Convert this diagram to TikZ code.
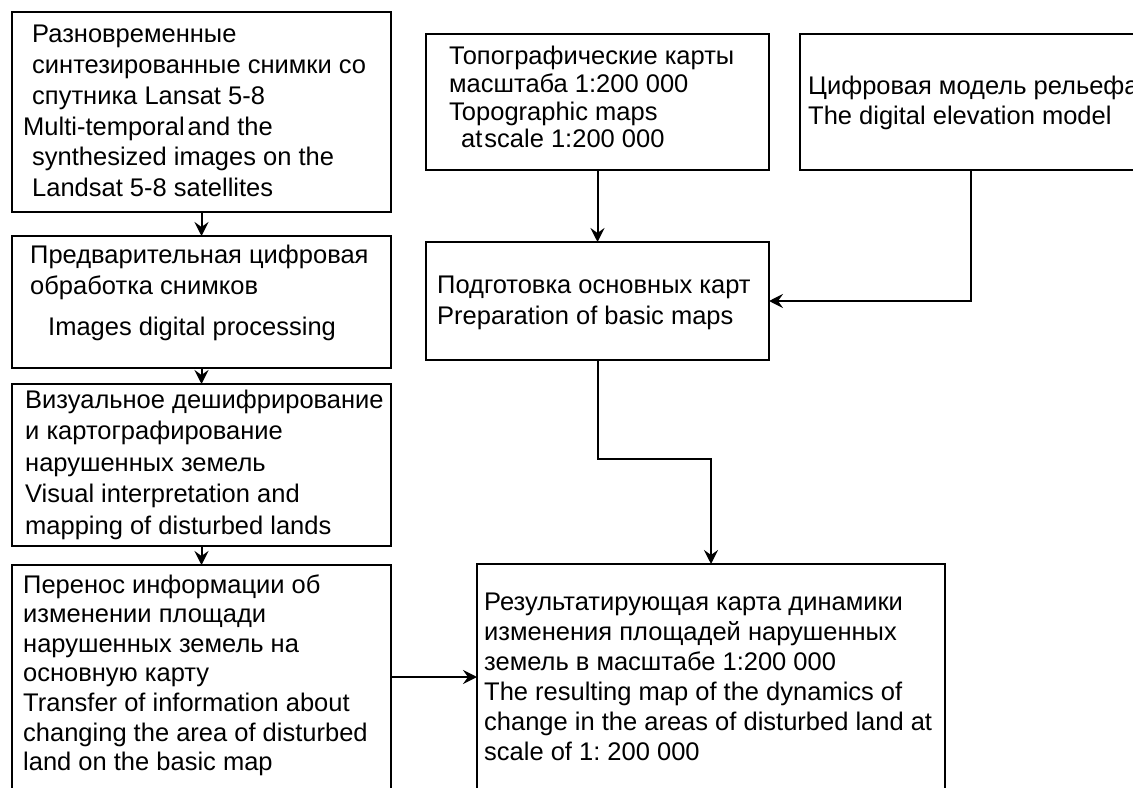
\documentclass[tikz,border=0pt]{standalone}
\usepackage{fontspec}
\setmainfont{Liberation Sans}
\usetikzlibrary{arrows.meta}
\frenchspacing

\tikzset{
  box/.style={draw, line width=2.8pt, outer sep=0pt, inner sep=0pt, anchor=north west},
  txt/.style={inner sep=0pt, anchor=base west, align=left, font=\fontsize{25.5}{#1}\selectfont},
  arr/.style={line width=2pt, -{Stealth[length=14pt, width=14pt, inset=5pt]}}
}

\begin{document}
\begin{tikzpicture}[x=1pt, y=-1pt]
\useasboundingbox (0,0) rectangle (1133,789);
\clip (-5,-5) rectangle (1140,787.6);

\node[box, minimum width=379, minimum height=200] (b1) at (12, 12) {};
\node[box, minimum width=379, minimum height=132] (b2) at (12, 236) {};
\node[box, minimum width=379, minimum height=162] (b3) at (12, 384) {};
\node[box, minimum width=379, minimum height=224] (b4) at (12, 565) {};
\node[box, minimum width=343, minimum height=136] (topo) at (426, 34) {};
\node[box, minimum width=342, minimum height=136] (dem) at (800, 34) {};
\node[box, minimum width=343, minimum height=118] (prep) at (426, 242) {};
\node[box, minimum width=468, minimum height=260] (res) at (477, 564) {};

\node[txt=30.7] (t1) at (32, 196.5) {Разновременные\\синтезированные снимки со\\спутника Lansat 5-8\\\hspace*{-9pt}Multi-temporal\kern3pt and the\\synthesized images on the\\Landsat 5-8 satellites};
\node[txt=31] (t2) at (30, 335) {Предварительная цифровая\\обработка снимков\\[10pt]\hspace*{18pt}Images digital processing};
\node[txt=31.5] (t3) at (25, 534) {Визуальное дешифрирование\\и картографирование\\нарушенных земель\\Visual interpretation and\\mapping of disturbed lands};
\node[txt=29.6] (t4) at (23, 770.6) {Перенос информации об\\изменении площади\\нарушенных земель на\\основную карту\\Transfer of information about\\changing the area of disturbed\\land on the basic map};
\node[txt=27.7] (t5) at (449, 148) {Топографические карты\\масштаба 1:200 000\\Topographic maps\\\hspace*{12pt}at\kern2pt scale 1:200 000};
\node[txt=30] (t6) at (808, 125) {Цифровая модель рельефа\\The digital elevation model};
\node[txt=31] (t7) at (437, 324) {Подготовка основных карт\\Preparation of basic maps};
\node[txt=30] (t8) at (484, 760) {Результатирующая карта динамики\\изменения площадей нарушенных\\земель в масштабе 1:200 000\\The resulting map of the dynamics of\\change in the areas of disturbed land at\\scale of 1: 200 000};

\draw[arr] (b1) -- (b2);
\draw[arr] (b2) -- (b3);
\draw[arr] (b3) -- (b4);
\draw[arr] (topo) -- (prep);
\draw[arr] (dem.south) |- (prep.east);
\draw[arr] (prep.south) -- ++(0, 99) -| (res.north);
\draw[arr] (b4.east) -- (b4.east -| res.west);
\end{tikzpicture}
\end{document}
